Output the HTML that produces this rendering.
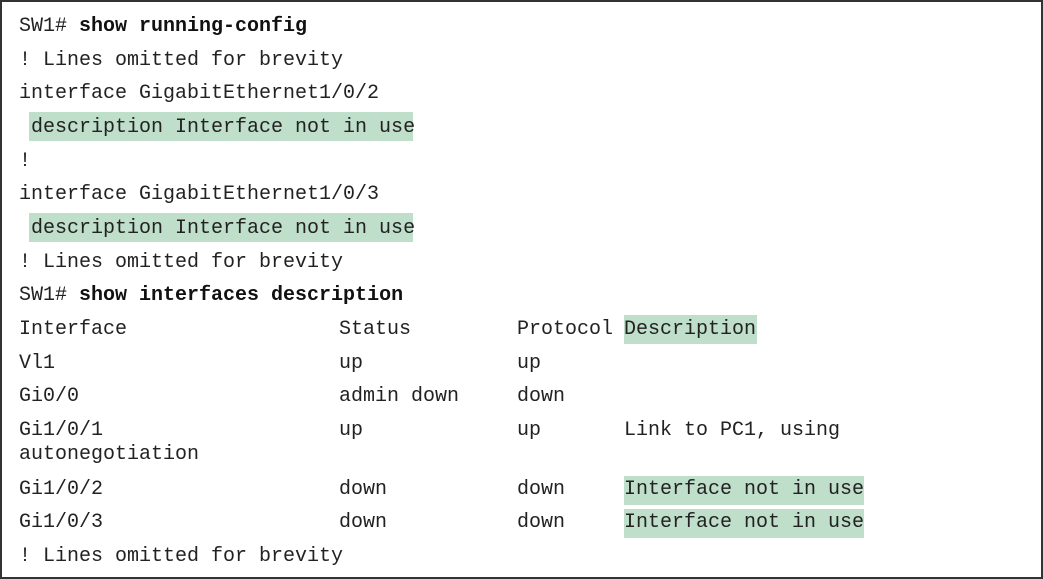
<!DOCTYPE html>
<html><head><meta charset="utf-8"><style>
html,body{margin:0;padding:0;background:#fff;}
#c{position:relative;width:1043px;height:579px;box-sizing:border-box;border:2px solid #333;overflow:hidden;}
.t{position:absolute;font-family:"Liberation Mono",monospace;font-size:20px;line-height:34px;height:34px;white-space:pre;color:#222;margin-top:2px;}
b{font-weight:bold;color:#111;}
.h{position:absolute;background:#bfdfcb;}
</style></head><body><div id="c">
<div class="h" style="left:27px;top:110px;width:384px;height:29px"></div>
<div class="h" style="left:27px;top:211px;width:384px;height:29px"></div>
<div class="h" style="left:622px;top:313px;width:133px;height:29px"></div>
<div class="h" style="left:622px;top:474px;width:240px;height:29px"></div>
<div class="h" style="left:622px;top:507px;width:240px;height:29px"></div>

<div class="t" style="left:17px;top:6px">SW1# <b>show running-config</b></div>
<div class="t" style="left:17px;top:40px">! Lines omitted for brevity</div>
<div class="t" style="left:17px;top:73px">interface GigabitEthernet1/0/2</div>
<div class="t" style="left:17px;top:107px"> description Interface not in use</div>
<div class="t" style="left:17px;top:141px">!</div>
<div class="t" style="left:17px;top:174px">interface GigabitEthernet1/0/3</div>
<div class="t" style="left:17px;top:208px"> description Interface not in use</div>
<div class="t" style="left:17px;top:242px">! Lines omitted for brevity</div>
<div class="t" style="left:17px;top:275px">SW1# <b>show interfaces description</b></div>

<div class="t" style="left:17px;top:309px">Interface</div>
<div class="t" style="left:337px;top:309px">Status</div>
<div class="t" style="left:515px;top:309px">Protocol</div>
<div class="t" style="left:622px;top:309px">Description</div>

<div class="t" style="left:17px;top:343px">Vl1</div>
<div class="t" style="left:337px;top:343px">up</div>
<div class="t" style="left:515px;top:343px">up</div>

<div class="t" style="left:17px;top:376px">Gi0/0</div>
<div class="t" style="left:337px;top:376px">admin down</div>
<div class="t" style="left:515px;top:376px">down</div>

<div class="t" style="left:17px;top:410px">Gi1/0/1</div>
<div class="t" style="left:337px;top:410px">up</div>
<div class="t" style="left:515px;top:410px">up</div>
<div class="t" style="left:622px;top:410px">Link to PC1, using</div>
<div class="t" style="left:17px;top:434px">autonegotiation</div>

<div class="t" style="left:17px;top:469px">Gi1/0/2</div>
<div class="t" style="left:337px;top:469px">down</div>
<div class="t" style="left:515px;top:469px">down</div>
<div class="t" style="left:622px;top:469px">Interface not in use</div>

<div class="t" style="left:17px;top:502px">Gi1/0/3</div>
<div class="t" style="left:337px;top:502px">down</div>
<div class="t" style="left:515px;top:502px">down</div>
<div class="t" style="left:622px;top:502px">Interface not in use</div>

<div class="t" style="left:17px;top:536px">! Lines omitted for brevity</div>
</div></body></html>
